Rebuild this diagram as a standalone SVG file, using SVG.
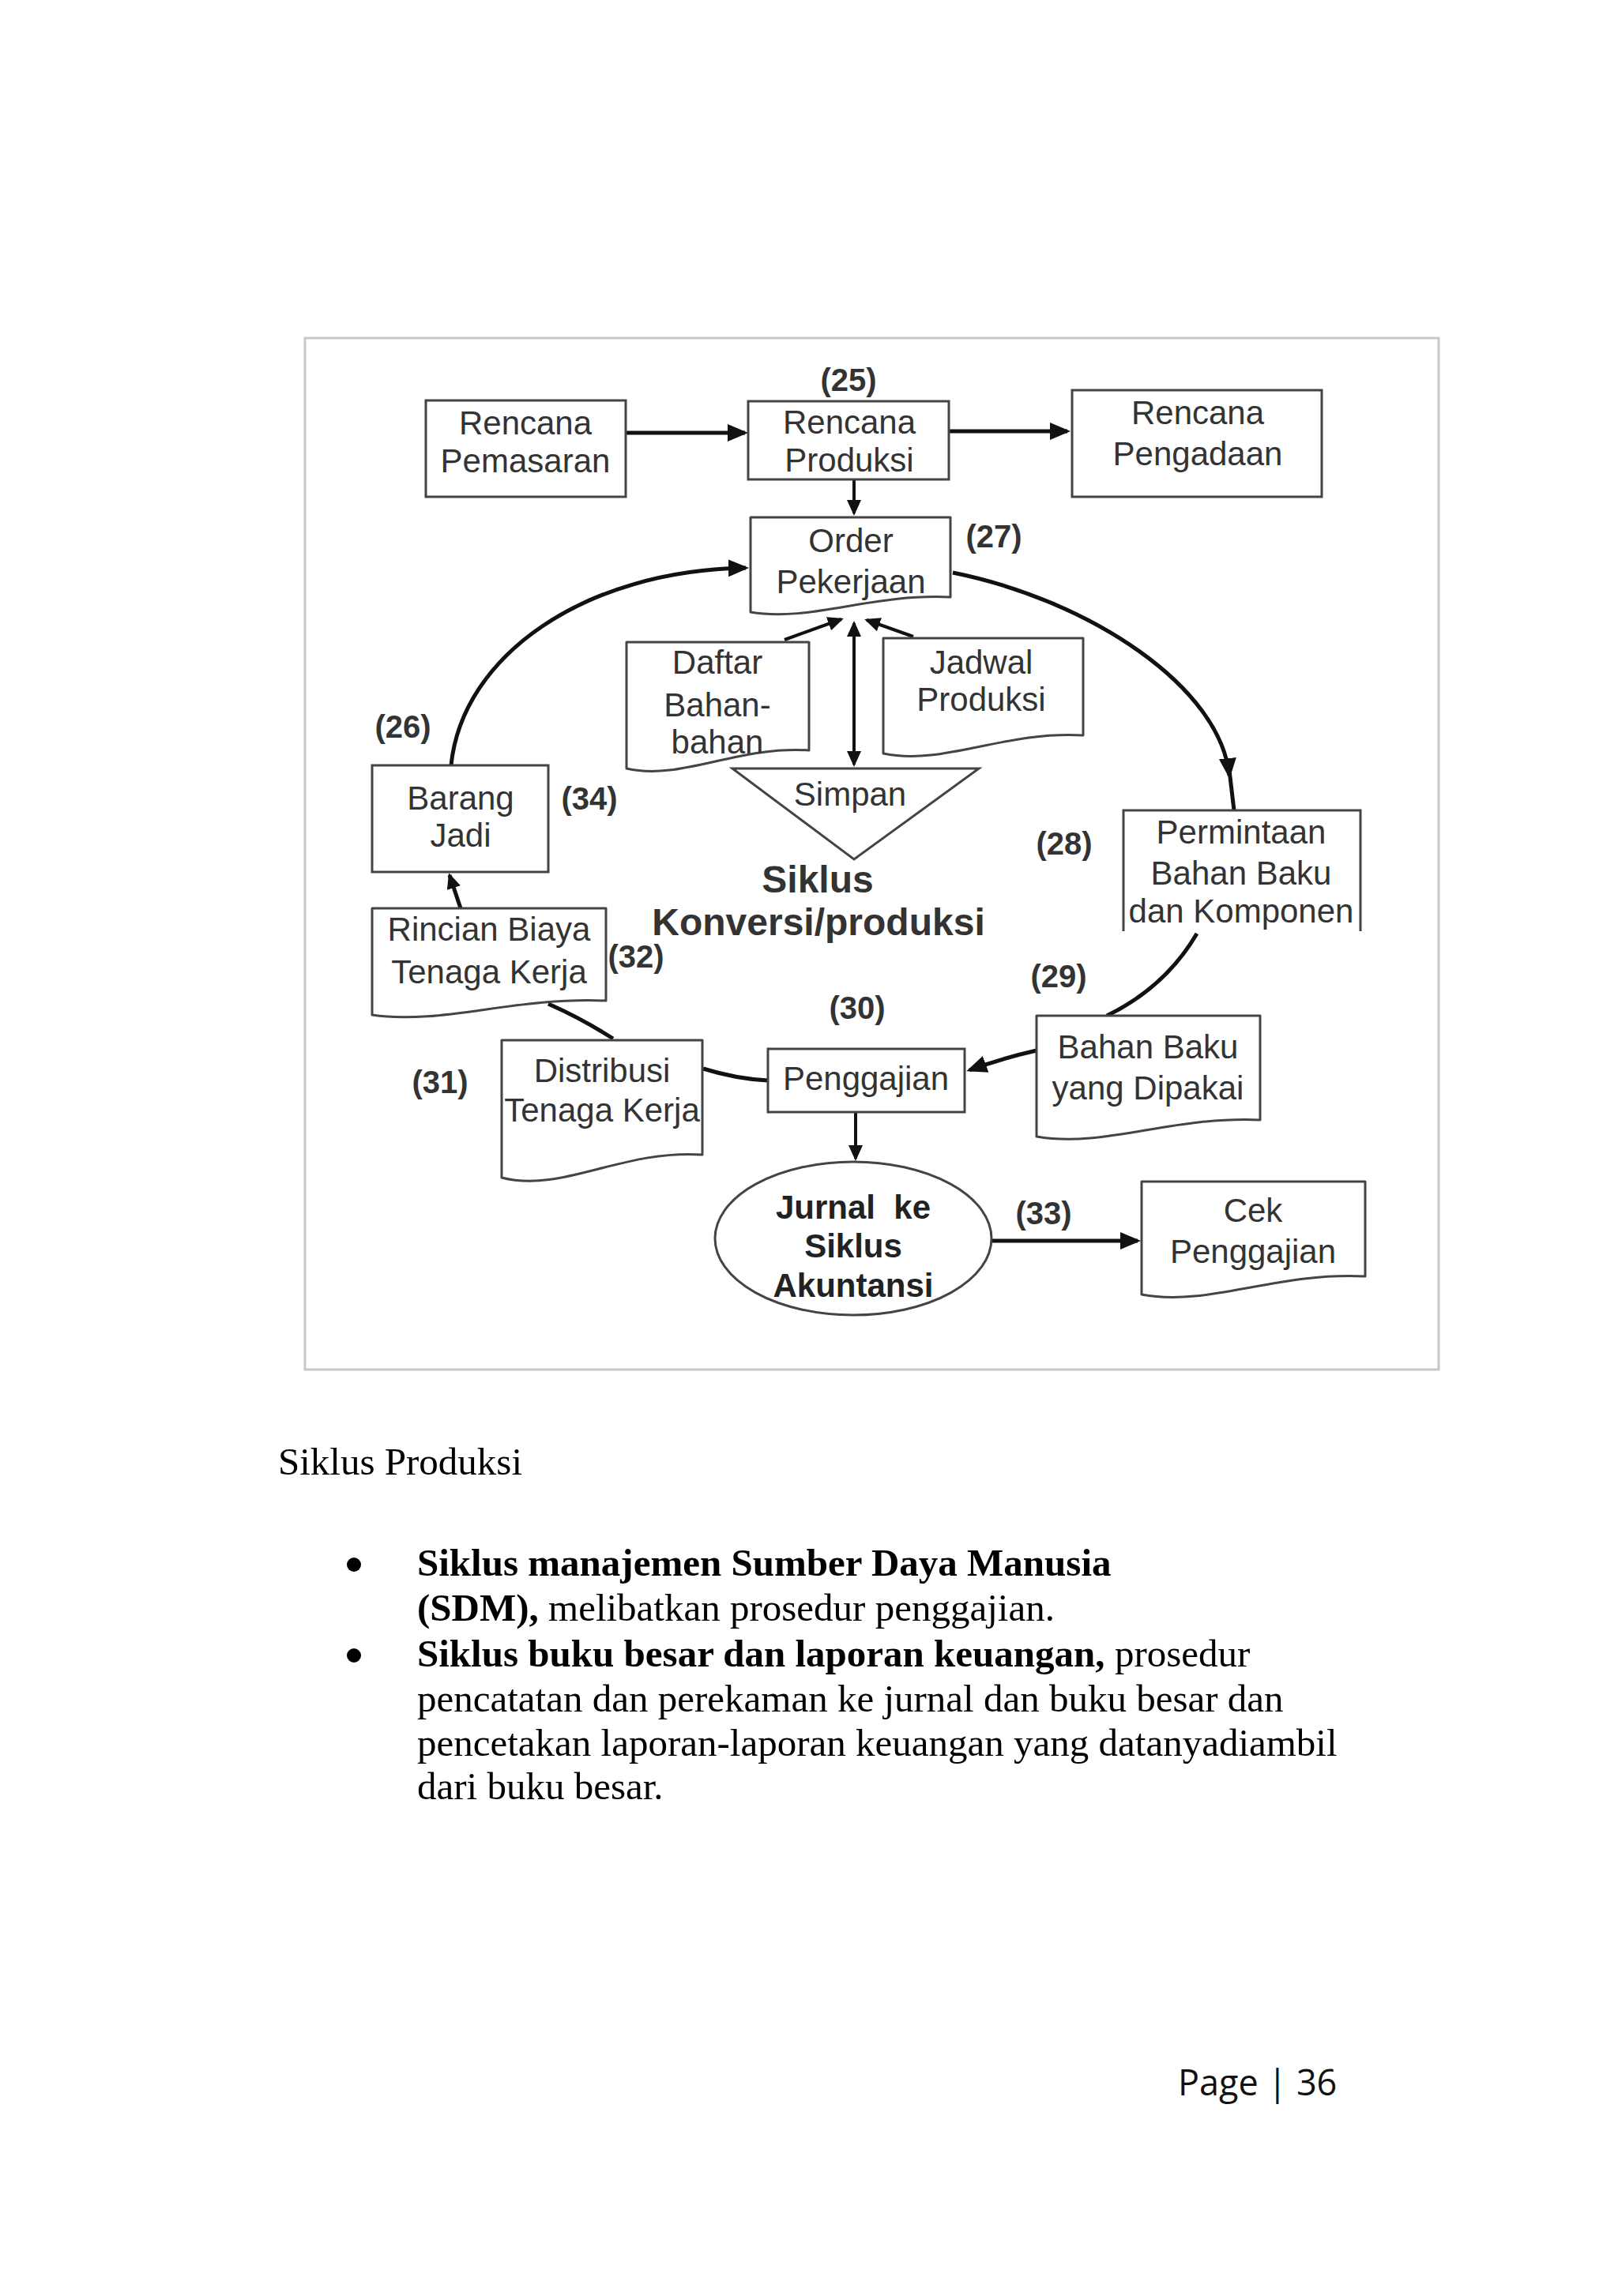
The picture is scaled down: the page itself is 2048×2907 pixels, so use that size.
<svg xmlns="http://www.w3.org/2000/svg" width="2048" height="2907" viewBox="0 0 2048 2907">
<style>
.box{fill:#fff;stroke:#444;stroke-width:3}
.doc{fill:#fff;stroke:#444;stroke-width:3;stroke-linejoin:round}
.t{font-family:"Liberation Sans",Arial,sans-serif;font-size:42px;fill:#333;text-anchor:middle}
.lbl{font-family:"Liberation Sans",Arial,sans-serif;font-size:40px;font-weight:bold;fill:#333;text-anchor:middle}
.big{font-family:"Liberation Sans",Arial,sans-serif;font-size:48px;font-weight:bold;fill:#333;text-anchor:middle}
.jb{font-family:"Liberation Sans",Arial,sans-serif;font-size:42px;font-weight:bold;fill:#222;text-anchor:middle}
.c{fill:none;stroke:#111;stroke-width:5}
.cs{fill:none;stroke:#111;stroke-width:4}
.body{font-family:"Liberation Serif","Times New Roman",serif;font-size:49px;fill:#000}
</style>
<defs>
<marker id="ah" markerUnits="userSpaceOnUse" markerWidth="26" markerHeight="22" viewBox="0 0 26 22" refX="22" refY="11" orient="auto">
<path d="M0,0 L26,11 L0,22 Z" fill="#111"/>
</marker>
<marker id="as" markerUnits="userSpaceOnUse" markerWidth="20" markerHeight="18" viewBox="0 0 20 18" refX="17" refY="9" orient="auto-start-reverse">
<path d="M0,0 L20,9 L0,18 Z" fill="#111"/>
</marker>
</defs>
<rect width="2048" height="2907" fill="#fff"/>
<rect x="386" y="428" width="1435" height="1306" fill="none" stroke="#c8c8c8" stroke-width="3"/>

<g id="connectors">
<path class="c" d="M792,548 L943,548" marker-end="url(#ah)"/>
<path class="c" d="M1201,546 L1351,546" marker-end="url(#ah)"/>
<path class="cs" d="M1081,607 L1081,650" marker-end="url(#as)"/>
<path class="c" d="M571,969 C585,830 740,722 944,719" marker-end="url(#ah)"/>
<path class="c" d="M1206,725 C1380,760 1545,870 1556,982" marker-end="url(#ah)"/>
<path class="c" d="M1556,975 L1562,1026"/>
<path class="cs" d="M993,810 L1065,784" marker-end="url(#as)"/>
<path class="cs" d="M1156,806 L1097,785" marker-end="url(#as)"/>
<path class="cs" d="M1081,789 L1081,968" marker-start="url(#as)" marker-end="url(#as)"/>
<path class="c" d="M1515,1182 Q1475,1250 1401,1286"/>
<path class="c" d="M1312,1330 Q1268,1340 1227,1355" marker-end="url(#ah)"/>
<path class="c" d="M972,1368 Q932,1366 890,1353"/>
<path class="c" d="M694,1271 Q737,1290 776,1315"/>
<path class="c" d="M583,1150 L569,1108" marker-end="url(#as)"/>
<path class="cs" d="M1083,1408 L1083,1467" marker-end="url(#as)"/>
<path class="c" d="M1255,1571 L1440,1571" marker-end="url(#ah)"/>
</g>

<g id="rencana-pemasaran">
<rect class="box" x="539" y="507" width="253" height="122"/>
<text class="t" x="665" y="550">Rencana</text>
<text class="t" x="665" y="598">Pemasaran</text>
</g>
<g id="rencana-produksi">
<rect class="box" x="947" y="508" width="254" height="99"/>
<text class="t" x="1075" y="549">Rencana</text>
<text class="t" x="1075" y="597">Produksi</text>
<text class="lbl" x="1074" y="495">(25)</text>
</g>
<g id="rencana-pengadaan">
<rect class="box" x="1357" y="494" width="316" height="135"/>
<text class="t" x="1516" y="537">Rencana</text>
<text class="t" x="1516" y="589">Pengadaan</text>
</g>
<g id="order-pekerjaan">
<path class="doc" d="M950,655 H1203 V756 C1102,751 1026,788 950,775 Z"/>
<text class="t" x="1077" y="699">Order</text>
<text class="t" x="1077" y="751">Pekerjaan</text>
<text class="lbl" x="1258" y="693">(27)</text>
</g>
<g id="daftar-bahan">
<path class="doc" d="M793,813 H1024 V950 C932,944 862,989 793,973 Z"/>
<text class="t" x="908" y="853">Daftar</text>
<text class="t" x="908" y="907">Bahan-</text>
<text class="t" x="908" y="954">bahan</text>
</g>
<g id="jadwal-produksi">
<path class="doc" d="M1118,808 H1371 V931 C1270,925 1194,970 1118,954 Z"/>
<text class="t" x="1242" y="853">Jadwal</text>
<text class="t" x="1242" y="900">Produksi</text>
</g>
<g id="simpan">
<path fill="none" stroke="#444" stroke-width="3" d="M927,973 L1239,973 L1081,1088 Z"/>
<text class="t" x="1076" y="1020">Simpan</text>
</g>
<g id="siklus-label">
<text class="big" x="1035" y="1130">Siklus</text>
<text class="big" x="1036" y="1184">Konversi/produksi</text>
</g>
<g id="barang-jadi">
<rect class="box" x="471" y="969" width="223" height="135"/>
<text class="t" x="583" y="1025">Barang</text>
<text class="t" x="583" y="1072">Jadi</text>
<text class="lbl" x="510" y="934">(26)</text>
<text class="lbl" x="746" y="1025">(34)</text>
</g>
<g id="permintaan">
<path fill="none" stroke="#444" stroke-width="3" d="M1422,1179 V1026 H1722 V1179"/>
<text class="t" x="1571" y="1068">Permintaan</text>
<text class="t" x="1571" y="1120">Bahan Baku</text>
<text class="t" x="1571" y="1168">dan Komponen</text>
<text class="lbl" x="1347" y="1082">(28)</text>
</g>
<g id="bahan-baku-dipakai">
<path class="doc" d="M1312,1286 H1595 V1418 C1482,1413 1397,1454 1312,1439 Z"/>
<text class="t" x="1453" y="1340">Bahan Baku</text>
<text class="t" x="1453" y="1392">yang Dipakai</text>
<text class="lbl" x="1340" y="1250">(29)</text>
</g>
<g id="penggajian">
<rect class="box" x="972" y="1328" width="249" height="80"/>
<text class="t" x="1096" y="1380">Penggajian</text>
<text class="lbl" x="1085" y="1290">(30)</text>
</g>
<g id="rincian-biaya">
<path class="doc" d="M471,1150 H767 V1267 C649,1262 560,1298 471,1285 Z"/>
<text class="t" x="619" y="1191">Rincian Biaya</text>
<text class="t" x="619" y="1245">Tenaga Kerja</text>
<text class="lbl" x="805" y="1225">(32)</text>
</g>
<g id="distribusi">
<path class="doc" d="M635,1317 H889 V1462 C787,1455 711,1511 635,1491 Z"/>
<text class="t" x="762" y="1370">Distribusi</text>
<text class="t" x="762" y="1420">Tenaga Kerja</text>
<text class="lbl" x="557" y="1384">(31)</text>
</g>
<g id="jurnal">
<ellipse cx="1080" cy="1568" rx="175" ry="97" fill="#fff" stroke="#444" stroke-width="3"/>
<text class="jb" x="1080" y="1543" xml:space="preserve">Jurnal  ke</text>
<text class="jb" x="1080" y="1592">Siklus</text>
<text class="jb" x="1080" y="1642">Akuntansi</text>
<text class="lbl" x="1321" y="1550">(33)</text>
</g>
<g id="cek-penggajian">
<path class="doc" d="M1445,1496 H1728 V1616 C1615,1610 1530,1655 1445,1639 Z"/>
<text class="t" x="1586" y="1547">Cek</text>
<text class="t" x="1586" y="1599">Penggajian</text>
</g>

<g id="caption">
<text class="body" x="352" y="1867">Siklus Produksi</text>
<circle cx="448" cy="1981" r="9" fill="#000"/>
<text class="body" x="528" y="1995"><tspan font-weight="bold">Siklus manajemen Sumber Daya Manusia</tspan></text>
<text class="body" x="528" y="2052"><tspan font-weight="bold">(SDM),</tspan> melibatkan prosedur penggajian.</text>
<circle cx="448" cy="2096" r="9" fill="#000"/>
<text class="body" x="528" y="2110"><tspan font-weight="bold">Siklus buku besar dan laporan keuangan,</tspan> prosedur</text>
<text class="body" x="528" y="2167">pencatatan dan perekaman ke jurnal dan buku besar dan</text>
<text class="body" x="528" y="2223">pencetakan laporan-laporan keuangan yang datanyadiambil</text>
<text class="body" x="528" y="2278">dari buku besar.</text>
</g>
<text x="1491" y="2653" font-family="'Open Sans','Noto Sans',sans-serif" font-size="45" fill="#111">Page | 36</text>
</svg>
